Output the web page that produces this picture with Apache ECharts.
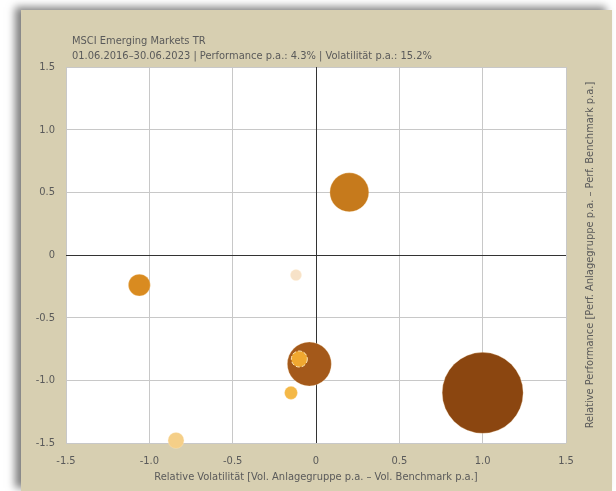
<!DOCTYPE html>
<html>
<head>
<meta charset="utf-8">
<script src="https://cdn.jsdelivr.net/npm/echarts@6/dist/echarts.min.js"></script>
<style>
  html, body { margin: 0; padding: 0; background: #fff; width: 616px; height: 491px; overflow: hidden; }
  .panel {
    position: absolute; left: 21px; top: 10px; width: 591px; height: 481px;
    background: #d7cfb1;
    box-shadow: -6px -3px 8px rgba(0, 0, 0, 0.5);
  }
  #chart { width: 591px; height: 481px; }
</style>
</head>
<body>
<div class="panel"><div id="chart"></div></div>
<script>
// Relative volatility (x) and relative performance (y) per fund group
const relVol = [1.00, -0.04, -0.10, 0.20, -1.06, -0.12, -0.15, -0.84]
const relPerf = [-1.10, -0.87, -0.83, 0.50, -0.24, -0.16, -1.10, -1.48]
// bubble weight (volume, arbitrary units)
const volume = [410, 121, 16, 95, 30, 7.6, 10.6, 16]
const bubbleColors = ['#8b4610', '#a4591a', '#f0a830', '#c67a1c', '#d98b20', '#f7e2c8', '#f4b847', '#f5cf88']
const axisTicks = [-1.5, -1.0, -0.5, 0, 0.5, 1.0, 1.5]

const titleText = 'MSCI Emerging Markets TR'
const subText = '01.06.2016–30.06.2023 | Performance p.a.: 4.3% | Volatilität p.a.: 15.2%'
const xName = 'Relative Volatilität [Vol. Anlagegruppe p.a. – Vol. Benchmark p.a.]'
const yName = 'Relative Performance [Perf. Anlagegruppe p.a. – Perf. Benchmark p.a.]'

const font = "'Liberation Sans Narrow', 'DejaVu Sans Condensed', sans-serif"
const textColor = '#5a5a5a'
const fs = 11

const fmt = v => (v === 0 ? '0' : v.toFixed(1))

const chart = echarts.init(document.getElementById('chart'))
chart.setOption({
  animation: false,
  backgroundColor: 'transparent',
  textStyle: { fontFamily: font },
  title: {
    text: titleText + '\n' + subText,
    left: 46,
    top: 19,
    textStyle: { fontFamily: font, fontSize: fs, fontWeight: 'normal', color: textColor, lineHeight: 15 }
  },
  grid: { left: 45, right: 46, top: 57, bottom: 48, show: true, backgroundColor: '#fff', borderWidth: 0 },
  xAxis: {
    type: 'value',
    min: axisTicks[0],
    max: axisTicks[axisTicks.length - 1],
    interval: 0.5,
    name: xName,
    nameLocation: 'middle',
    nameGap: 26,
    nameTextStyle: { fontFamily: font, fontSize: fs, color: textColor },
    axisLine: { show: false },
    axisTick: { show: false },
    axisLabel: { formatter: fmt, fontFamily: font, fontSize: fs, color: textColor, margin: 13 },
    splitLine: { lineStyle: { color: '#c8c8c8', width: 1 } }
  },
  yAxis: [
    {
      type: 'value',
      min: axisTicks[0],
      max: axisTicks[axisTicks.length - 1],
      interval: 0.5,
      axisLine: { show: false },
      axisTick: { show: false },
      axisLabel: { formatter: fmt, fontFamily: font, fontSize: fs, color: textColor, margin: 11 },
      splitLine: { lineStyle: { color: '#c8c8c8', width: 1 } }
    },
    {
      type: 'value',
      position: 'right',
      min: axisTicks[0],
      max: axisTicks[axisTicks.length - 1],
      interval: 0.5,
      name: yName,
      nameLocation: 'middle',
      nameRotate: 90,
      nameGap: 19,
      nameTextStyle: { fontFamily: font, fontSize: fs, color: textColor },
      axisLine: { show: false },
      axisTick: { show: false },
      axisLabel: { show: false },
      splitLine: { show: false }
    }
  ],
  series: [{
    type: 'scatter',
    clip: false,
    data: relVol.map((x, i) => ({
      value: [x, relPerf[i], volume[i]],
      itemStyle: {
        color: bubbleColors[i],
        borderColor: i === 2 ? '#fde7b8' : 'rgba(255,235,200,0.6)',
        borderWidth: i === 2 ? 1 : 0.5,
        borderType: i === 2 ? 'dashed' : 'solid',
        opacity: 1
      }
    })),
    symbolSize: v => 4 * Math.sqrt(v[2]),
    markLine: {
      silent: true,
      symbol: 'none',
      label: { show: false },
      lineStyle: { color: '#333', width: 1, type: 'solid' },
      data: [{ xAxis: 0 }, { yAxis: 0 }],
      z: 1
    },
    z: 3
  }]
})
</script>
</body>
</html>
